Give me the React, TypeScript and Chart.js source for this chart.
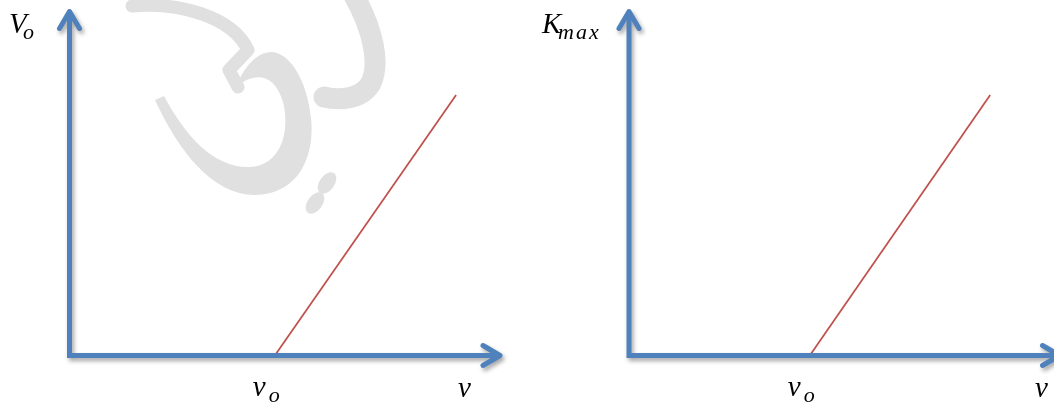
import { useEffect, useRef } from "react";
import { Chart, registerables } from "chart.js";

Chart.register(...registerables);

// Axis extents (arbitrary units)
const axisMin = 0;
const axisMax = 10;

// Stopping potential vs. frequency
const stoppingFreq = [4.77, 8.98];
const stoppingVoltage = [0, 7.57];

// Maximum kinetic energy vs. frequency
const kineticFreq = [4.2, 8.39];
const kineticEnergy = [0, 7.57];

// Axis titles: [main symbol, subscript]
const leftYTitle = ["V", "o"];
const rightYTitle = ["K", "max"];
const xTitle = "v";
const thresholdLabel = ["v", "o"];

const AXIS_BLUE = "#4F81BD";
const LINE_RED = "#C0504D";
const MAIN_FONT = "italic 29px 'Liberation Serif'";
const SUB_FONT = "italic 22px 'Liberation Serif'";

type Labels = {
  yTitle: string[];
  yTitleX: number;
  yTitleSubX: number;
  xTitleX: number;
  threshold: number;
  watermark: boolean;
};

function drawWatermark(ctx: CanvasRenderingContext2D) {
  ctx.save();
  ctx.fillStyle = "#E0E0E0";
  ctx.strokeStyle = "#E0E0E0";
  ctx.lineCap = "round";
  ctx.lineJoin = "round";

  // upper swash running into the hooked lobe
  ctx.lineWidth = 13;
  ctx.beginPath();
  ctx.moveTo(132, 6);
  ctx.bezierCurveTo(178, 2, 232, 16, 248, 50);
  ctx.lineTo(229, 70);
  ctx.lineTo(238, 87);
  ctx.stroke();

  // lower bowl
  ctx.beginPath();
  ctx.moveTo(155, 100);
  ctx.bezierCurveTo(178, 150, 212, 195, 255, 195);
  ctx.bezierCurveTo(300, 194, 315, 155, 311, 118);
  ctx.bezierCurveTo(307, 82, 292, 55, 273, 52);
  ctx.bezierCurveTo(258, 51, 244, 66, 236, 87);
  ctx.bezierCurveTo(254, 72, 274, 72, 283, 102);
  ctx.bezierCurveTo(291, 134, 279, 166, 250, 167);
  ctx.bezierCurveTo(214, 168, 186, 137, 164, 96);
  ctx.closePath();
  ctx.fill();

  // right-hand stroke
  ctx.lineWidth = 21;
  ctx.beginPath();
  ctx.moveTo(352, -8);
  ctx.bezierCurveTo(374, 30, 380, 64, 371, 83);
  ctx.bezierCurveTo(362, 99, 340, 101, 324, 97);
  ctx.stroke();

  // two dots
  ctx.beginPath();
  ctx.ellipse(327, 183, 12, 7.5, -0.95, 0, Math.PI * 2);
  ctx.fill();
  ctx.beginPath();
  ctx.ellipse(315, 203, 12, 7.5, -0.95, 0, Math.PI * 2);
  ctx.fill();
  ctx.restore();
}

function drawArrowAxes(chart: Chart) {
  const { ctx, chartArea: a } = chart;
  const w = chart.canvas.width;
  const h = chart.canvas.height;
  const off = document.createElement("canvas");
  off.width = w;
  off.height = h;
  const o = off.getContext("2d")!;
  o.strokeStyle = AXIS_BLUE;
  o.lineWidth = 5;

  // axis lines meeting in a square corner
  o.lineJoin = "miter";
  o.lineCap = "butt";
  o.beginPath();
  o.moveTo(a.left, a.top + 3);
  o.lineTo(a.left, a.bottom);
  o.lineTo(a.right - 3, a.bottom);
  o.stroke();

  // open arrow heads
  o.lineJoin = "round";
  o.lineCap = "round";
  o.beginPath();
  o.moveTo(a.left - 10, a.top + 17);
  o.lineTo(a.left, a.top);
  o.lineTo(a.left + 10, a.top + 17);
  o.moveTo(a.right - 17, a.bottom - 10);
  o.lineTo(a.right, a.bottom);
  o.lineTo(a.right - 17, a.bottom + 10);
  o.stroke();

  ctx.save();
  ctx.shadowColor = "rgba(0,0,0,0.35)";
  ctx.shadowBlur = 4;
  ctx.shadowOffsetX = 2;
  ctx.shadowOffsetY = 3;
  ctx.drawImage(off, 0, 0);
  ctx.restore();
}

function drawSymbol(
  ctx: CanvasRenderingContext2D,
  main: string,
  sub: string | null,
  x: number,
  subX: number,
  baseline: number
) {
  ctx.fillStyle = "#000000";
  ctx.textAlign = "left";
  ctx.textBaseline = "alphabetic";
  ctx.font = MAIN_FONT;
  (ctx as any).letterSpacing = "0px";
  ctx.fillText(main, x, baseline);
  if (sub) {
    ctx.font = SUB_FONT;
    (ctx as any).letterSpacing = sub.length > 1 ? "2px" : "0px";
    ctx.fillText(sub, subX, baseline + 6);
    (ctx as any).letterSpacing = "0px";
  }
}

function makeOptions(pad: { left: number; right: number }, labels: Labels) {
  return {
    responsive: false,
    animation: false as const,
    layout: { padding: { left: pad.left, right: pad.right, top: 11.5, bottom: 47.5 } },
    plugins: {
      legend: { display: false },
      tooltip: { enabled: false },
    },
    scales: {
      x: { type: "linear" as const, min: axisMin, max: axisMax, display: false },
      y: { type: "linear" as const, min: axisMin, max: axisMax, display: false },
    },
    labels,
  };
}

function makePlugin(labels: Labels) {
  return {
    id: "physicsDecor",
    beforeDraw(chart: Chart) {
      if (labels.watermark) drawWatermark(chart.ctx);
    },
    afterDatasetsDraw(chart: Chart) {
      drawArrowAxes(chart);
      const ctx = chart.ctx;
      const xs = chart.scales.x;
      ctx.save();
      drawSymbol(ctx, labels.yTitle[0], labels.yTitle[1], labels.yTitleX, labels.yTitleSubX, 33);
      drawSymbol(ctx, xTitle, null, labels.xTitleX, 0, 397);
      const px = xs.getPixelForValue(labels.threshold);
      drawSymbol(ctx, thresholdLabel[0], thresholdLabel[1], px - 22, px - 6, 396);
      ctx.restore();
    },
  };
}

function PhysicsPanel(props: {
  left: number;
  width: number;
  xs: number[];
  ys: number[];
  pad: { left: number; right: number };
  labels: Labels;
}) {
  const ref = useRef<HTMLCanvasElement | null>(null);
  useEffect(() => {
    if (!ref.current) return;
    const data = props.xs.map((x, i) => ({ x, y: props.ys[i] }));
    const chart = new Chart(ref.current, {
      type: "scatter",
      data: {
        datasets: [
          {
            data,
            showLine: true,
            borderColor: LINE_RED,
            borderWidth: 1.75,
            pointRadius: 0,
            clip: false as any,
          },
        ],
      },
      options: makeOptions(props.pad, props.labels) as any,
      plugins: [makePlugin(props.labels)],
    });
    return () => chart.destroy();
  }, []);
  return (
    <canvas
      ref={ref}
      width={props.width}
      height={403}
      style={{ position: "absolute", left: props.left, top: 0, width: props.width, height: 403 }}
    />
  );
}

export default function App() {
  return (
    <div
      style={{
        position: "fixed",
        left: 0,
        top: 0,
        width: 1054,
        height: 403,
        overflow: "hidden",
        background: "#ffffff",
      }}
    >
      <PhysicsPanel
        left={0}
        width={540}
        xs={stoppingFreq}
        ys={stoppingVoltage}
        pad={{ left: 69.5, right: 40 }}
        labels={{
          yTitle: leftYTitle,
          yTitleX: 9,
          yTitleSubX: 23,
          xTitleX: 458,
          threshold: stoppingFreq[0],
          watermark: true,
        }}
      />
      <PhysicsPanel
        left={540}
        width={540}
        xs={kineticFreq}
        ys={kineticEnergy}
        pad={{ left: 89, right: 20.5 }}
        labels={{
          yTitle: rightYTitle,
          yTitleX: 2,
          yTitleSubX: 18,
          xTitleX: 495,
          threshold: kineticFreq[0],
          watermark: false,
        }}
      />
    </div>
  );
}
